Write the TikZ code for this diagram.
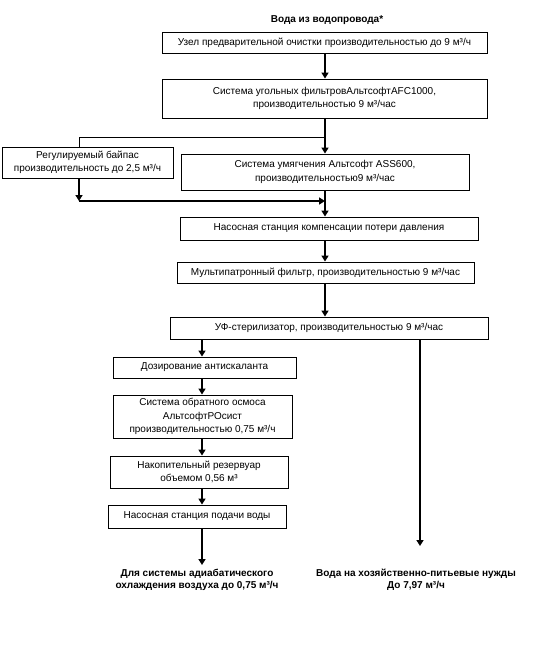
\documentclass[tikz,border=0pt]{standalone}
\usepackage{fontspec}
\setmainfont{Liberation Sans}
\usetikzlibrary{arrows.meta,calc}
\begin{document}
\begin{tikzpicture}[x=1pt,y=-1pt,
  bx/.style={draw, line width=0.9pt, inner sep=0pt, align=center,
    font=\fontsize{10}{13.5}\selectfont},
  arr/.style={line width=2.2pt, -{Triangle[width=7pt,length=6pt]}},
  thinline/.style={line width=0.9pt},
  lbl/.style={align=center, font=\bfseries\fontsize{10}{12.5}\selectfont}]
\useasboundingbox (0,0) rectangle (542,648);
\node[lbl] (title) at (327,20) {Вода из водопровода*};
\node[bx, minimum width=325pt, minimum height=21pt] (b1) at (324.5,42.5)
  {Узел предварительной очистки производительностью до 9 м³/ч};
\node[bx, minimum width=325pt, minimum height=39pt] (b2) at (324.5,98.5)
  {Система угольных фильтровАльтсофтAFC1000,\\производительностью 9 м³/час};
\node[bx, minimum width=171pt, minimum height=31pt] (byp) at (87.5,162.5)
  {Регулируемый байпас\\производительность до 2,5 м³/ч};
\node[bx, minimum width=288pt, minimum height=36pt] (soft) at (325,172)
  {Система умягчения Альтсофт ASS600,\\производительностью9 м³/час};
\node[bx, minimum width=298pt, minimum height=23pt] (b4) at (329,228.5)
  {Насосная станция компенсации потери давления};
\node[bx, minimum width=297pt, minimum height=21pt] (b5) at (325.5,272.5)
  {Мультипатронный фильтр, производительностью 9 м³/час};
\node[bx, minimum width=318pt, minimum height=22pt] (b6) at (329,328)
  {УФ-стерилизатор, производительностью 9 м³/час};
\node[bx, minimum width=183pt, minimum height=21pt] (b7) at (204.5,367.5)
  {Дозирование антискаланта};
\node[bx, minimum width=179pt, minimum height=43pt] (b8) at (202.5,416.5)
  {Система обратного осмоса\\АльтсофтРОсист\\производительностью 0,75 м³/ч};
\node[bx, minimum width=178pt, minimum height=32pt] (b9) at (199,472)
  {Накопительный резервуар\\объемом 0,56 м³};
\node[bx, minimum width=178pt, minimum height=23pt] (b10) at (197,516.5)
  {Насосная станция подачи воды};
\node[lbl] (out1) at (197,580)
  {Для системы адиабатического\\охлаждения воздуха до 0,75 м³/ч};
\node[lbl] (out2) at (416,580)
  {Вода на хозяйственно-питьевые нужды\\До 7,97 м³/ч};
% helper coordinates
\coordinate (ax) at (325,0);
\coordinate (lx) at (202,0);
\coordinate (rx) at (420,0);
\coordinate (j1) at (325,137);
\coordinate (j2) at (79,201);
\coordinate (e1) at (202,565);
\coordinate (e2) at (420,546);
% connectors
\draw[arr] (b1.south -| ax) -- (b2.north -| ax);
\draw[arr] (b2.south -| ax) -- (soft.north -| ax);
\draw[thinline] (j1) -| (byp.north -| j2);
\draw[arr] (byp.south -| j2) -- (j2);
\draw[arr] (j2) -- (j2 -| ax);
\draw[arr] (soft.south -| ax) -- (b4.north -| ax);
\draw[arr] (b4.south -| ax) -- (b5.north -| ax);
\draw[arr] (b5.south -| ax) -- (b6.north -| ax);
\draw[arr] (b6.south -| lx) -- (b7.north -| lx);
\draw[arr] (b7.south -| lx) -- (b8.north -| lx);
\draw[arr] (b8.south -| lx) -- (b9.north -| lx);
\draw[arr] (b9.south -| lx) -- (b10.north -| lx);
\draw[arr] (b10.south -| lx) -- (e1);
\draw[arr] (b6.south -| rx) -- (e2);
\end{tikzpicture}
\end{document}
